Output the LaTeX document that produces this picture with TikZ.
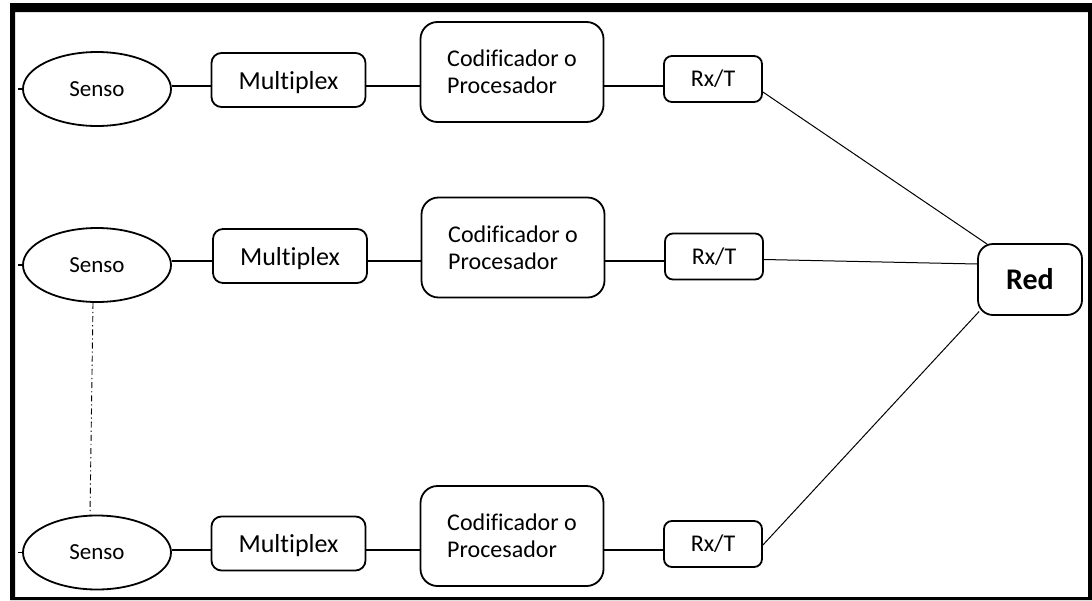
\documentclass[tikz,border=0pt]{standalone}
\usepackage{fontspec}
\setmainfont{Carlito}[Ligatures=NoCommon]
\usetikzlibrary{shapes.geometric,calc}

\tikzset{
  sensor/.style={ellipse, draw, line width=1.8pt, minimum width=148pt,
    minimum height=74pt, inner sep=0pt, font=\fontsize{23}{27}\selectfont},
  muxbox/.style={draw, rounded corners=10pt, line width=1.8pt,
    minimum width=154pt, minimum height=54pt, inner sep=0pt, text depth=0pt,
    font=\fontsize{26}{30}\selectfont},
  coderbox/.style={draw, rounded corners=17pt, line width=1.8pt,
    minimum width=183pt, minimum height=100pt, inner sep=0pt, align=left,
    font=\fontsize{24}{27}\selectfont},
  rxbox/.style={draw, rounded corners=8pt, line width=1.8pt,
    minimum width=98pt, minimum height=46pt, inner sep=0pt,
    font=\fontsize{24}{28}\selectfont},
  netbox/.style={draw, rounded corners=15pt, line width=1.8pt,
    minimum width=104pt, minimum height=71pt, inner sep=0pt,
    font=\bfseries\fontsize{30}{36}\selectfont},
  link/.style={line width=1.4pt},
  uplink/.style={line width=1pt},
  dotdash/.style={line width=0.9pt, dash pattern=on 6pt off 3pt on 1.2pt off 3pt}
}

\begin{document}
\begin{tikzpicture}[x=1pt,y=-1pt]
  % page and outer frame
  \fill[white] (0,0) rectangle (1092,600);
  \useasboundingbox (0,0) rectangle (1092,600);
  \fill[black,even odd rule] (10,3) rectangle (1092,600) (15,12) rectangle (1088,597);

  % signal level of each chain
  \coordinate (y1) at (0,86);
  \coordinate (y2) at (0,261);
  \coordinate (y3) at (0,550);

  % chain 1
  \node[sensor]   (e1) at (97,89)    {Senso};
  \node[muxbox]   (m1) at (288.5,80) {Multiplex};
  \node[coderbox] (c1) at (512,72)   {Codificador o\\Procesador};
  \node[rxbox]    (r1) at (713,79)   {Rx/T};

  % chain 2
  \node[sensor]   (e2) at (97,265)   {Senso};
  \node[muxbox]   (m2) at (290,256)  {Multiplex};
  \node[coderbox] (c2) at (513,247.5){Codificador o\\Procesador};
  \node[rxbox]    (r2) at (714,256.5){Rx/T};

  % chain 3
  \node[sensor]   (e3) at (97,552.5) {Senso};
  \node[muxbox]   (m3) at (288.5,543.5){Multiplex};
  \node[coderbox] (c3) at (512,536)  {Codificador o\\Procesador};
  \node[rxbox]    (r3) at (713,544)  {Rx/T};

  % network
  \node[netbox]   (net) at (1030,279.5) {Red};

  % links along each chain
  \foreach \i in {1,2,3} {
    \draw[link] (e\i.west) -- ++(-4,0);
    \draw[link] (e\i.east |- y\i) -- (m\i.west |- y\i);
    \draw[link] (m\i.east |- y\i) -- (c\i.west |- y\i);
    \draw[link] (c\i.east |- y\i) -- (r\i.west |- y\i);
  }

  % transceivers to the network
  \draw[uplink] ([yshift=-13pt]r1.east) -- ([shift={(10,1)}]net.north west);
  \draw[uplink] ([yshift=-3pt]r2.east)  -- ([yshift=15.5pt]net.west);
  \draw[uplink] ([yshift=-1pt]r3.east)  -- ([shift={(2,32)}]net.west);

  % further sensors in between
  \draw[dotdash] ([xshift=-4pt]e2.south) -- ([xshift=-7pt]e3.north);
\end{tikzpicture}
\end{document}
